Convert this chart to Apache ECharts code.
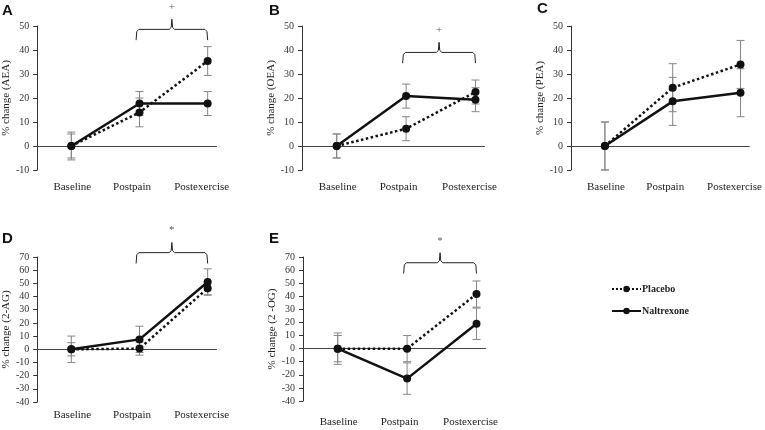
<!DOCTYPE html>
<html lang="en">
<head>
<meta charset="UTF-8" />
<title>Endocannabinoid % change</title>
<script src="https://cdn.jsdelivr.net/npm/echarts@6/dist/echarts.min.js"></script>
<style type="text/css">
    html, body { margin: 0; padding: 0; background: #fff; }
    #chart { width: 765px; height: 430px; }
</style>
</head>
<body>
<div id="chart"></div>
<script type="text/javascript">
// ---- data ----
var categories = ['Baseline', 'Postpain', 'Postexercise'];
var panelLetters = ['A', 'B', 'C', 'D', 'E'];
var yNames = ['% change (AEA)', '% change (OEA)', '% change (PEA)', '% change (2-AG)', '% change (2 -OG)'];

var placeboAEA = [0, 14, 35.4];
var placeboAEAErr = [5.8, 6, 6];
var naltrexAEA = [0, 17.7, 17.7];
var naltrexAEAErr = [5, 5, 5];

var placeboOEA = [0, 7.2, 22.5];
var placeboOEAErr = [5, 5, 5];
var naltrexOEA = [0, 20.8, 19.3];
var naltrexOEAErr = [5, 5, 5];

var placeboPEA = [0, 24.3, 34];
var placeboPEAErr = [10, 10, 10];
var naltrexPEA = [0, 18.6, 22.2];
var naltrexPEAErr = [10, 10, 10];

var placebo2AG = [0, 0.5, 46.3];
var placebo2AGErr = [5, 5, 5];
var naltrex2AG = [0, 7.5, 51];
var naltrex2AGErr = [10, 10, 10];

var placebo2OG = [0, 0, 41.7];
var placebo2OGErr = [10, 10, 10];
var naltrex2OG = [0, -22.9, 19];
var naltrex2OGErr = [12, 12, 12];

var yMin = [-10, -10, -10, -40, -40];
var yMax = [50, 50, 50, 70, 70];

// significance brackets: [panel, fromCategory, toCategory, level, mark]
var brackets = [
    [0, 1, 2, 48.6, '+'],
    [1, 1, 2, 39, '+'],
    [3, 1, 2, 73.3, '*'],
    [4, 1, 2, 65.6, '*']
];

var placeboAll = [placeboAEA, placeboOEA, placeboPEA, placebo2AG, placebo2OG];
var placeboErrAll = [placeboAEAErr, placeboOEAErr, placeboPEAErr, placebo2AGErr, placebo2OGErr];
var naltrexAll = [naltrexAEA, naltrexOEA, naltrexPEA, naltrex2AG, naltrex2OG];
var naltrexErrAll = [naltrexAEAErr, naltrexOEAErr, naltrexPEAErr, naltrex2AGErr, naltrex2OGErr];

// ---- layout ----
var xMin = -0.5, xMax = 2.13;
var gridW = (xMax - xMin) * 69.4;
var grids = [
    { left: 34, top: 26, width: gridW, height: 144 },
    { left: 302, top: 26, width: gridW, height: 144 },
    { left: 571, top: 26, width: gridW, height: 144 },
    { left: 34, top: 257, width: gridW, height: 145 },
    { left: 303, top: 257, width: gridW, height: 144 }
];
var labelMargin = [12, 12, 12, 8, 16];
var letterPos = [[2, 3], [269, 3], [537, 1], [2, 231], [269, 231]];

var serif = '"Liberation Serif", "DejaVu Serif", serif';

function renderErr(params, api) {
    var x = api.value(0);
    var lo = api.coord([x, api.value(1)]);
    var hi = api.coord([x, api.value(2)]);
    var w = 4;
    var st = { stroke: '#858585', lineWidth: 1 };
    return {
        type: 'group',
        children: [
            { type: 'line', shape: { x1: lo[0], y1: lo[1], x2: hi[0], y2: hi[1] }, style: st },
            { type: 'line', shape: { x1: lo[0] - w, y1: lo[1], x2: lo[0] + w, y2: lo[1] }, style: st },
            { type: 'line', shape: { x1: hi[0] - w, y1: hi[1], x2: hi[0] + w, y2: hi[1] }, style: st }
        ]
    };
}

function toPoints(vals) {
    return vals.map(function (v, i) { return [i, v]; });
}
function toErr(vals, errs) {
    return vals.map(function (v, i) { return [i, v - errs[i], v + errs[i]]; });
}
// curly brace built from the bracket spec
function braceGeom(b) {
    var range = yMax[b[0]] - yMin[b[0]];
    return { x0: b[1] - 0.05, x1: b[2], lv: b[3], d: range * 0.075, p: range * 0.07, mid: (b[1] - 0.05 + b[2]) / 2 };
}
function bracePoints(b) {
    var g = braceGeom(b);
    return [
        [g.x0, g.lv - g.d], [g.x0 + 0.01, g.lv - g.d * 0.2], [g.x0 + 0.04, g.lv],
        [g.mid - 0.04, g.lv], [g.mid - 0.01, g.lv + g.p * 0.2], [g.mid, g.lv + g.p],
        [g.mid + 0.01, g.lv + g.p * 0.2], [g.mid + 0.04, g.lv],
        [g.x1 - 0.04, g.lv], [g.x1 - 0.01, g.lv - g.d * 0.2], [g.x1, g.lv - g.d]
    ];
}

// category label nudges (reference labels sit a little left of their points)
var labelRich = {
    c0: { padding: [0, 0, 0, 2] },
    c1: { padding: [0, 15, 0, 0] },
    c2: { padding: [0, 12, 0, 0] }
};

var xAxes = [], yAxes = [], series = [], titles = [];
for (var i = 0; i < 5; i++) {
    // zero line axis
    xAxes.push({
        gridIndex: i, type: 'value', min: xMin, max: xMax,
        axisLine: { show: true, onZero: true, lineStyle: { color: '#444', width: 1 } },
        axisTick: { show: false }, axisLabel: { show: false }, splitLine: { show: false }
    });
    // category label axis
    xAxes.push({
        gridIndex: i, type: 'value', min: xMin, max: xMax, interval: 0.5, position: 'bottom',
        axisLine: { show: false }, axisTick: { show: false }, splitLine: { show: false },
        axisLabel: {
            margin: labelMargin[i], color: '#222', fontFamily: serif, fontSize: 11,
            showMinLabel: true, showMaxLabel: true, rich: labelRich,
            formatter: function (v) {
                var k = Math.round(v);
                if (Math.abs(v - k) < 1e-6 && k >= 0 && k <= 2) {
                    return '{c' + k + '|' + categories[k] + '}';
                }
                return '';
            }
        }
    });
    yAxes.push({
        gridIndex: i, type: 'value', min: yMin[i], max: yMax[i], interval: 10,
        name: yNames[i], nameLocation: 'middle', nameGap: 24,
        nameTextStyle: { fontFamily: serif, fontSize: 11, color: '#222' },
        axisLine: { show: true, onZero: false, lineStyle: { color: '#333' } },
        axisTick: { show: true, length: 4, lineStyle: { color: '#333' } },
        axisLabel: { margin: 8, color: '#333', fontFamily: serif, fontSize: 10 },
        splitLine: { show: false }
    });
    titles.push({
        text: panelLetters[i], left: letterPos[i][0], top: letterPos[i][1], padding: 0,
        textStyle: { fontFamily: '"Liberation Sans", Arial, sans-serif', fontWeight: 'bold', fontSize: 15, color: '#111' }
    });

    series.push({
        type: 'custom', xAxisIndex: 2 * i, yAxisIndex: i, silent: true, z: 1,
        renderItem: renderErr, encode: { x: 0, y: [1, 2] },
        data: toErr(placeboAll[i], placeboErrAll[i])
    });
    series.push({
        type: 'custom', xAxisIndex: 2 * i, yAxisIndex: i, silent: true, z: 1,
        renderItem: renderErr, encode: { x: 0, y: [1, 2] },
        data: toErr(naltrexAll[i], naltrexErrAll[i])
    });
    series.push({
        name: 'Placebo', type: 'line', xAxisIndex: 2 * i, yAxisIndex: i, z: 3,
        symbol: 'circle', symbolSize: 8, animation: false,
        itemStyle: { color: '#111' },
        lineStyle: { color: '#111', width: 2.5, type: 'dotted' },
        data: toPoints(placeboAll[i])
    });
    series.push({
        name: 'Naltrexone', type: 'line', xAxisIndex: 2 * i, yAxisIndex: i, z: 3,
        symbol: 'circle', symbolSize: 8, animation: false,
        itemStyle: { color: '#111' },
        lineStyle: { color: '#111', width: 2.5, type: 'solid' },
        data: toPoints(naltrexAll[i])
    });
}

brackets.forEach(function (b) {
    var g = braceGeom(b);
    series.push({
        type: 'line', xAxisIndex: 2 * b[0], yAxisIndex: b[0], clip: false, silent: true,
        symbol: 'none', animation: false,
        lineStyle: { color: '#222', width: 1 },
        data: bracePoints(b)
    });
    // significance mark above the brace peak
    series.push({
        type: 'scatter', xAxisIndex: 2 * b[0], yAxisIndex: b[0], clip: false, silent: true,
        symbol: 'circle', symbolSize: 1, animation: false,
        itemStyle: { color: 'rgba(0,0,0,0)' },
        label: { show: true, formatter: b[4], position: 'top', distance: 6, color: '#333', fontFamily: serif, fontSize: 11 },
        data: [[g.mid, g.lv + g.p]]
    });
});

var chart = echarts.init(document.getElementById('chart'), null, { renderer: 'canvas' });
chart.setOption({
    backgroundColor: '#fff',
    animation: false,
    title: titles,
    grid: grids,
    xAxis: xAxes,
    yAxis: yAxes,
    legend: {
        data: ['Placebo', 'Naltrexone'],
        orient: 'vertical', left: 611, top: 284, padding: 0,
        itemWidth: 29, itemHeight: 8, itemGap: 12,
        textStyle: { fontFamily: serif, fontWeight: 'bold', fontSize: 10, color: '#222', padding: [0, 0, 0, -4] }
    },
    series: series
});
</script>
</body>
</html>
